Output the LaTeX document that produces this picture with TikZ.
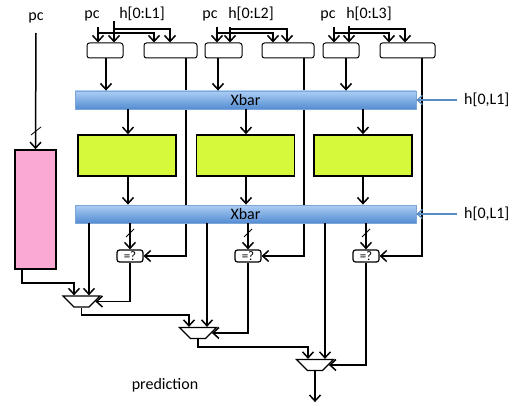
\documentclass[tikz,border=0pt]{standalone}
\usepackage{fontspec}
\setmainfont{Carlito}
\usetikzlibrary{arrows.meta,shapes.geometric}
\definecolor{histpink}{RGB}{249,169,211}
\definecolor{predgreen}{RGB}{214,249,60}
\definecolor{xbartop}{RGB}{172,206,245}
\definecolor{xbarbot}{RGB}{84,140,210}
\definecolor{xbaredge}{RGB}{125,165,215}
\definecolor{hblue}{RGB}{90,140,196}
\begin{document}
\begin{tikzpicture}[x=1pt,y=-1pt,
		txt/.style={font=\fontsize{16}{19}\selectfont, inner sep=0.5pt},
		arr/.style={line width=1.5pt, -{Straight Barb[length=6pt,width=11pt]}},
		harr/.style={draw=hblue, line width=1.3pt, -{Straight Barb[length=5pt,width=9pt]}},
		slashmark/.style={line width=0.8pt},
		inbox/.style={draw, line width=1pt, rounded corners=2.5pt, minimum height=15pt, inner sep=0},
		eqbox/.style={draw, line width=1.2pt, rounded corners=2.5pt, minimum width=26pt, minimum height=12pt, inner sep=0, font=\fontsize{13}{13}\selectfont},
		predbox/.style={draw, line width=1.6pt, fill=predgreen, minimum width=98pt, minimum height=41pt},
		xbar/.style={draw=xbaredge, line width=0.8pt, top color=xbartop, bottom color=xbarbot, minimum width=341pt, minimum height=18pt, inner sep=0, font=\fontsize{16}{19}\selectfont},
		mux/.style={draw, line width=1.2pt, trapezium, trapezium left angle=126, trapezium right angle=126, trapezium stretches=true, minimum width=37pt, minimum height=11pt, inner sep=1pt}]
		\useasboundingbox (0,0) rectangle (520,404);

		% Inputs
		\node[txt, anchor=base] (pc0) at (36,21) {pc};
		\node[txt, anchor=base] (pc1) at (92,19) {pc};
		\node[txt, anchor=base] (h1) at (142,19) {h[0:L1]};
		\node[txt, anchor=base] (pc2) at (210,19) {pc};
		\node[txt, anchor=base] (h2) at (251,19) {h[0:L2]};
		\node[txt, anchor=base] (pc3) at (328,19) {pc};
		\node[txt, anchor=base] (h3) at (369,19) {h[0:L3]};

		% Index and tag boxes
		\node[inbox, minimum width=36pt] (idxA1) at (105,50.5) {};
		\node[inbox, minimum width=53pt] (tagB1) at (170.5,50.5) {};
		\node[inbox, minimum width=37pt] (idxA2) at (223.5,50.5) {};
		\node[inbox, minimum width=52pt] (tagB2) at (288,50.5) {};
		\node[inbox, minimum width=36pt] (idxA3) at (341,50.5) {};
		\node[inbox, minimum width=55pt] (tagB3) at (407.5,50.5) {};

		% History table
		\node[draw, line width=1.6pt, fill=histpink, minimum width=41pt, minimum height=119pt] (hist) at (35.5,209.5) {};

		% Predictor tables
		\node[predbox] (pred1) at (127,155.5) {};
		\node[predbox] (pred2) at (245.5,155.5) {};
		\node[predbox] (pred3) at (363,155.5) {};

		% Compare and select
		\node[eqbox] (eq1) at (130,256) {=?};
		\node[eqbox] (eq2) at (248,256) {=?};
		\node[eqbox] (eq3) at (366,256) {=?};
		\node[mux] (mux1) at (81.5,301.5) {};
		\node[mux] (mux2) at (198,333) {};
		\node[mux] (mux3) at (315,365) {};

		% Tags pass under the Xbars
		\draw[arr] (186,0 |- tagB1.south) |- (eq1.east);
		\draw[arr] (304,0 |- tagB2.south) |- (eq2.east);
		\draw[arr] (422,0 |- tagB3.south) |- (eq3.east);

		% Xbars
		\node[xbar] (xbar1) at (245.5,100) {Xbar};
		\node[xbar] (xbar2) at (245.5,214) {Xbar};
		\node[txt, anchor=west, inner xsep=7pt] (hx1) at (457,100) {h[0,L1]};
		\node[txt, anchor=west, inner xsep=7pt] (hx2) at (457,214) {h[0,L1]};
		\draw[harr] (hx1.west) -- (xbar1.east);
		\draw[harr] (hx2.west) -- (xbar2.east);

		% Group 1
		\draw[arr] (98,27) -- (98,0 |- idxA1.north);
		\draw[arr] (114,21) -- (114,0 |- idxA1.north);
		\draw[arr] (98,33) -| (154,0 |- tagB1.north);
		\draw[arr] (114,29) -| (170,0 |- tagB1.north);
		% Group 2
		\draw[arr] (217,27) -- (217,0 |- idxA2.north);
		\draw[arr] (230,27) -- (230,0 |- idxA2.north);
		\draw[arr] (217,33) -| (273,0 |- tagB2.north);
		\draw[arr] (230,29) -| (287,0 |- tagB2.north);
		% Group 3
		\draw[arr] (334,27) -- (334,0 |- idxA3.north);
		\draw[arr] (349,26) -- (349,0 |- idxA3.north);
		\draw[arr] (334,33) -| (389,0 |- tagB3.north);
		\draw[arr] (349,29) -| (405,0 |- tagB3.north);

		% Into and out of the tables
		\draw[arr] (106,0 |- idxA1.south) -- (106,0 |- xbar1.north);
		\draw[arr] (218,0 |- idxA2.south) -- (218,0 |- xbar1.north);
		\draw[arr] (346,0 |- idxA3.south) -- (346,0 |- xbar1.north);
		\draw[arr] (128,0 |- xbar1.south) -- (128,0 |- pred1.north);
		\draw[arr] (246,0 |- xbar1.south) -- (246,0 |- pred2.north);
		\draw[arr] (363,0 |- xbar1.south) -- (363,0 |- pred3.north);
		\draw[arr] (128,0 |- pred1.south) -- (128,0 |- xbar2.north);
		\draw[arr] (246,0 |- pred2.south) -- (246,0 |- xbar2.north);
		\draw[arr] (363,0 |- pred3.south) -- (363,0 |- xbar2.north);
		\draw[arr] (eq1.north |- xbar2.south) -- (eq1.north);
		\draw[arr] (eq2.north |- xbar2.south) -- (eq2.north);
		\draw[arr] (eq3.north |- xbar2.south) -- (eq3.north);
		\draw[slashmark] (126,237) -- (134,229);
		\draw[slashmark] (244,237) -- (252,229);
		\draw[slashmark] (362,237) -- (370,229);

		% History
		\draw[arr] (36,33) -- (hist.north);
		\draw[slashmark] (31,135) -- (41,127);
		\draw[arr] (22,0 |- hist.south) |- (74,283) -- (74,0 |- mux1.north);

		% Mux chain
		\draw[arr] (89,0 |- xbar2.south) -- (89,0 |- mux1.north);
		\draw[arr] (207,0 |- xbar2.south) -- (207,0 |- mux2.north);
		\draw[arr] (325,0 |- xbar2.south) -- (325,0 |- mux3.north);
		\draw[arr] (eq1.south) |- (mux1.east);
		\draw[arr] (eq2.south) |- (mux2.east);
		\draw[arr] (eq3.south) |- (mux3.east);
		\draw[arr] (mux1.south) |- (189,315) -- (189,0 |- mux2.north);
		\draw[arr] (mux2.south) |- (308,347) -- (308,0 |- mux3.north);
		\draw[arr] (mux3.south) -- ++(0,31);
		\node[txt, anchor=base] (predlbl) at (165,389) {prediction};
	\end{tikzpicture}
\end{document}
